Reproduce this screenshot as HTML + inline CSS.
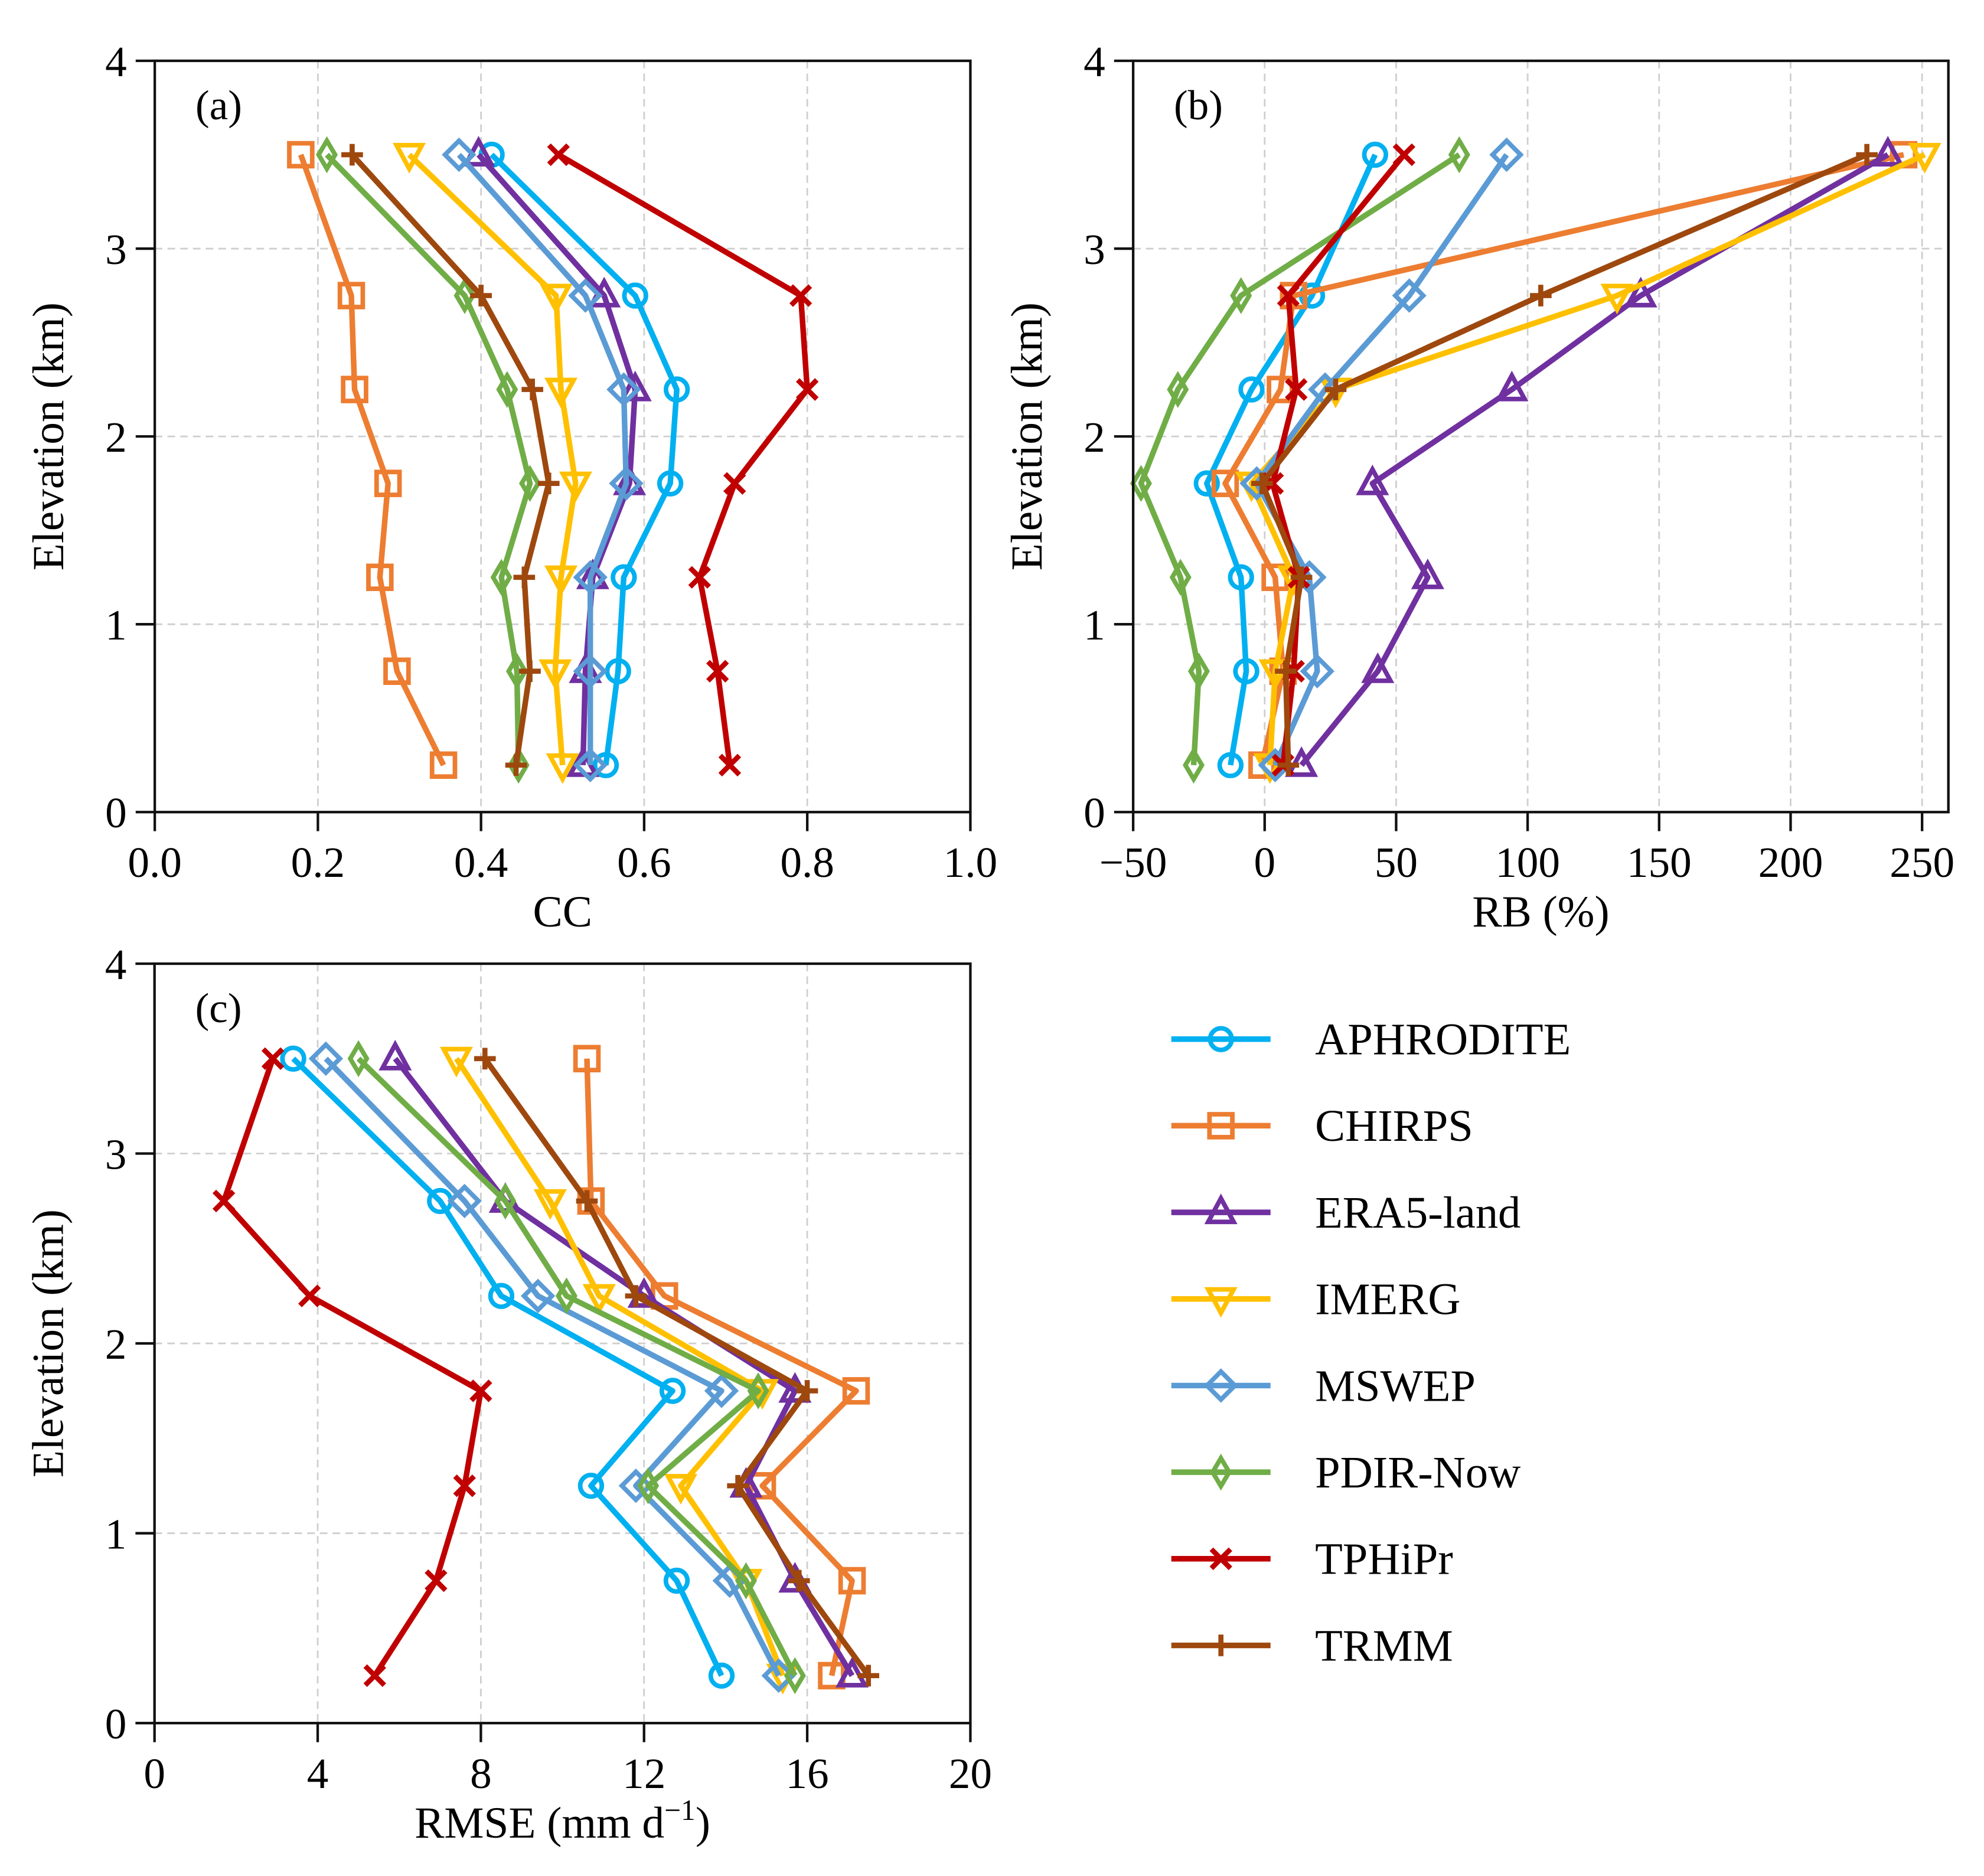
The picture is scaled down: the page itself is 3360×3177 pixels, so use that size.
<!DOCTYPE html>
<html><head><meta charset="utf-8"><style>
html,body{margin:0;padding:0;background:#fff}
svg{display:block}
text{font-family:"Liberation Serif",serif;fill:#000}
</style></head><body>
<svg id="fig" width="3360" height="3177" viewBox="0 0 1560 1475" xmlns="http://www.w3.org/2000/svg"></svg>
<script>
const elev = [0.25,0.75,1.25,1.75,2.25,2.75,3.5];
const names = ["APHRODITE","CHIRPS","ERA5-land","IMERG","MSWEP","PDIR-Now","TPHiPr","TRMM"];
const colors = ["#00B0F0","#ED7D31","#7030A0","#FFC000","#5B9BD5","#70AD47","#C00000","#9E480E"];
const markers = ["circle","square","triUp","triDown","diamond","thinDiamond","x","plus"];
// CC values, elevation order 0.25..3.5
const ccAPH = [0.553,0.568,0.575,0.632,0.640,0.589,0.413];
const ccCHI = [0.354,0.297,0.276,0.286,0.245,0.241,0.179];
const ccERA = [0.525,0.528,0.537,0.582,0.589,0.551,0.397];
const ccIME = [0.500,0.491,0.498,0.516,0.498,0.492,0.312];
const ccMSW = [0.534,0.534,0.534,0.578,0.575,0.528,0.373];
const ccPDI = [0.446,0.444,0.425,0.460,0.432,0.380,0.211];
const ccTPH = [0.705,0.690,0.668,0.711,0.800,0.792,0.495];
const ccTRM = [0.443,0.460,0.453,0.483,0.463,0.400,0.242];
// RB values (%)
const rbAPH = [-13,-7,-9,-22,-5,18,42];
const rbCHI = [-1,7,4,-15,6,11,243];
const rbERA = [14,43,62,41,94,143,237];
const rbIME = [2,4,11,-5,27,134,251];
const rbMSW = [4,20,17,-3,23,55,92];
const rbPDI = [-27,-25,-32,-47,-33,-9,74];
const rbTPH = [7,11,13,3,12,9,53];
const rbTRM = [9,8,14,-1,27,105,229];
// RMSE values (mm/d)
const rmAPH = [13.9,12.8,10.7,12.7,8.5,7.0,3.4];
const rmCHI = [16.6,17.1,14.9,17.2,12.5,10.7,10.6];
const rmERA = [17.1,15.7,14.5,15.7,12.0,8.6,5.9];
const rmIME = [15.4,14.5,12.9,14.9,10.9,9.7,7.4];
const rmMSW = [15.3,14.1,11.8,13.9,9.4,7.6,4.2];
const rmPDI = [15.7,14.5,12.1,14.8,10.1,8.6,5.0];
const rmTPH = [5.4,6.9,7.6,8.0,3.8,1.7,2.9];
const rmTRM = [17.5,15.8,14.3,16.0,11.8,10.6,8.1];
const ccTicks = ["0.0","0.2","0.4","0.6","0.8","1.0"];
const ccTickVals = [0,0.2,0.4,0.6,0.8,1.0];
const rbTickVals = [-50,0,50,100,150,200,250];
const rbTicks = ["\u221250","0","50","100","150","200","250"];
const rmTickVals = [0,4,8,12,16,20];
const rmTicks = ["0","4","8","12","16","20"];
const yTickVals = [0,1,2,3,4];

const NS="http://www.w3.org/2000/svg";
const svg=document.getElementById('fig');
function mk(tag,attrs,parent){const e=document.createElementNS(NS,tag);for(const k in attrs)e.setAttribute(k,attrs[k]);(parent||svg).appendChild(e);return e;}

function marker(g,type,x,y,c){
  const sw=3.6; let e;
  if(type==="circle") e=mk('circle',{cx:x,cy:y,r:8.5,fill:'none',stroke:c,'stroke-width':sw},g);
  else if(type==="square") e=mk('rect',{x:x-9,y:y-9,width:18,height:18,fill:'none',stroke:c,'stroke-width':sw},g);
  else if(type==="triUp") e=mk('polygon',{points:`${x},${y-11} ${x+10},${y+7.5} ${x-10},${y+7.5}`,fill:'none',stroke:c,'stroke-width':sw},g);
  else if(type==="triDown") e=mk('polygon',{points:`${x},${y+11} ${x+10},${y-7.5} ${x-10},${y-7.5}`,fill:'none',stroke:c,'stroke-width':sw},g);
  else if(type==="diamond") e=mk('polygon',{points:`${x},${y-11} ${x+11},${y} ${x},${y+11} ${x-11},${y}`,fill:'none',stroke:c,'stroke-width':sw},g);
  else if(type==="thinDiamond") e=mk('polygon',{points:`${x},${y-11} ${x+6.5},${y} ${x},${y+11} ${x-6.5},${y}`,fill:'none',stroke:c,'stroke-width':sw},g);
  else if(type==="x") e=mk('path',{d:`M${x-7.5},${y-7.5}L${x+7.5},${y+7.5}M${x-7.5},${y+7.5}L${x+7.5},${y-7.5}`,stroke:c,'stroke-width':4,fill:'none'},g);
  else e=mk('path',{d:`M${x-8.5},${y}L${x+8.5},${y}M${x},${y-8.5}L${x},${y+8.5}`,stroke:c,'stroke-width':4,fill:'none'},g);
  
  
}

function panel(cfg){
  const g=mk('g',{});
  
  
  const sx=v=>cfg.x0+(v-cfg.xmin)/(cfg.xmax-cfg.xmin)*(cfg.x1-cfg.x0);
  const sy=v=>cfg.yb-(v/4)*(cfg.yb-cfg.yt);
  cfg.xt.forEach(v=>{const l=mk('line',{x1:sx(v),x2:sx(v),y1:cfg.yt,y2:cfg.yb,stroke:'#cfcfcf','stroke-width':1.3,'stroke-dasharray':'6,4'},g);});
  yTickVals.forEach(v=>{const l=mk('line',{x1:cfg.x0,x2:cfg.x1,y1:sy(v),y2:sy(v),stroke:'#cfcfcf','stroke-width':1.3,'stroke-dasharray':'6,4'},g);});
  cfg.series.forEach((arr,i)=>{
    const sg=mk('g',{},g);
    
    
    const pts=arr.map((v,j)=>sx(v)+','+sy(elev[j])).join(' ');
    const pl=mk('polyline',{points:pts,fill:'none',stroke:colors[i],'stroke-width':4.4,'stroke-linejoin':'round'},sg);
    
    
    arr.forEach((v,j)=>marker(sg,markers[i],sx(v),sy(elev[j]),colors[i]));
  });
  const fr=mk('rect',{x:cfg.x0,y:cfg.yt,width:cfg.x1-cfg.x0,height:cfg.yb-cfg.yt,fill:'none',stroke:'#111','stroke-width':2},g);
  
  
  cfg.xt.forEach((v,k)=>{
    mk('line',{x1:sx(v),x2:sx(v),y1:cfg.yb,y2:cfg.yb+15,stroke:'#111','stroke-width':2},g);
    const t=mk('text',{x:sx(v),y:cfg.yb+51,'font-size':34,'text-anchor':'middle'},g);
    t.textContent=cfg.xl[k];
    
    
  });
  yTickVals.forEach(v=>{
    mk('line',{x1:cfg.x0-15,x2:cfg.x0,y1:sy(v),y2:sy(v),stroke:'#111','stroke-width':2},g);
    const t=mk('text',{x:cfg.x0-22,y:sy(v)+12,'font-size':34,'text-anchor':'end'},g);
    t.textContent=String(v);
    
    
  });
  const xt=mk('text',{x:(cfg.x0+cfg.x1)/2,y:cfg.yb+90,'font-size':35,'text-anchor':'middle'},g);
  xt.innerHTML=cfg.xlabel;
  
  
  const yc=(cfg.yt+cfg.yb)/2, yx=cfg.x0-72;
  const yt=mk('text',{x:yx,y:yc,'font-size':35,'text-anchor':'middle',transform:`rotate(-90 ${yx} ${yc})`},g);
  yt.textContent='Elevation (km)';
  
  
  const pl=mk('text',{x:cfg.x0+32,y:cfg.yt+46,'font-size':33},g);
  pl.textContent=cfg.label;
  
  
}

panel({name:'panel-a-cc',x0:121.7,x1:763,xmin:0,xmax:1,yt:47.8,yb:638.5,xt:ccTickVals,xl:ccTicks,xlabel:'CC',label:'(a)',
  series:[ccAPH,ccCHI,ccERA,ccIME,ccMSW,ccPDI,ccTPH,ccTRM]});
panel({name:'panel-b-rb',x0:891,x1:1532,xmin:-50,xmax:260,yt:47.8,yb:638.5,xt:rbTickVals,xl:rbTicks,xlabel:'RB (%)',label:'(b)',
  series:[rbAPH,rbCHI,rbERA,rbIME,rbMSW,rbPDI,rbTPH,rbTRM]});
panel({name:'panel-c-rmse',x0:121.5,x1:763,xmin:0,xmax:20,yt:757.7,yb:1354.8,xt:rmTickVals,xl:rmTicks,xlabel:'RMSE (mm d<tspan dy="-14" font-size="23">\u22121</tspan><tspan dy="14">)</tspan>',label:'(c)',
  series:[rmAPH,rmCHI,rmERA,rmIME,rmMSW,rmPDI,rmTPH,rmTRM]});

const lg=mk('g',{});


names.forEach((n,i)=>{
  const y=817+68.1*i;
  const eg=mk('g',{},lg);
  
  
  mk('line',{x1:921,x2:999,y1:y,y2:y,stroke:colors[i],'stroke-width':4.4},eg);
  marker(eg,markers[i],960,y,colors[i]);
  const t=mk('text',{x:1034,y:y+12,'font-size':35.5},eg);
  t.textContent=n;
  
  
});
</script>
</body></html>
